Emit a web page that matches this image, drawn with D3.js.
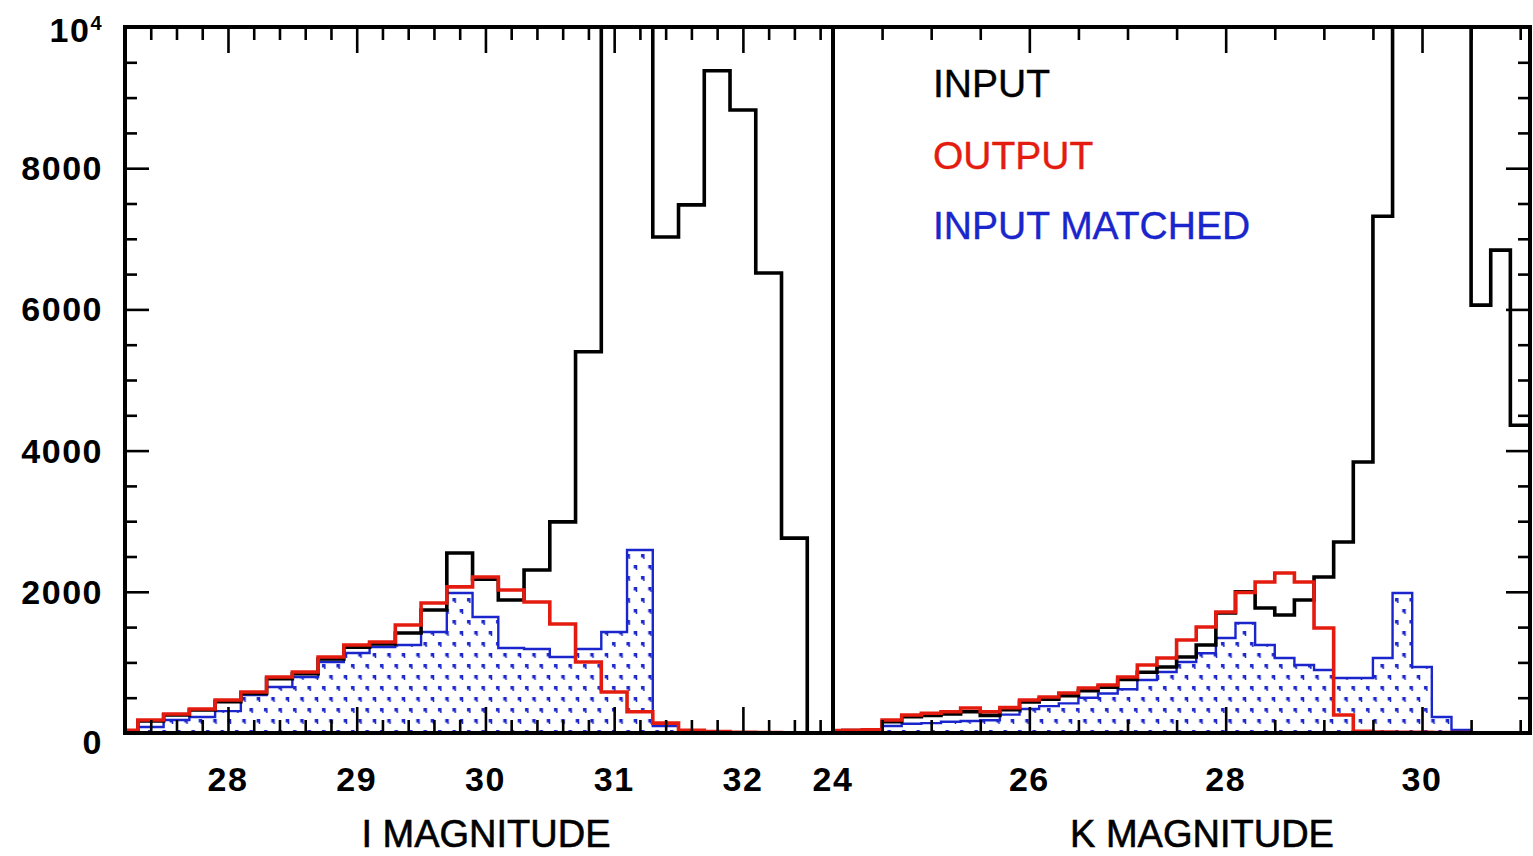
<!DOCTYPE html>
<html>
<head>
<meta charset="utf-8">
<script src="https://cdn.jsdelivr.net/npm/d3@7"></script>
<style>
  body { margin: 0; background: #fff; }
  svg { display: block; }
</style>
</head>
<body>
<svg id="chart" width="1533" height="856"></svg>
<script>
// ---- I band: bin centres (0.2 mag bins) and counts ----
const iCenters = [27.2, 27.4, 27.6, 27.8, 28.0, 28.2, 28.4, 28.6, 28.8, 29.0, 29.2, 29.4, 29.6, 29.8,
                  30.0, 30.2, 30.4, 30.6, 30.8, 31.0, 31.2, 31.4, 31.6, 31.8, 32.0, 32.2, 32.4, 32.6];
const iInput   = [30, 170, 255, 325, 445, 560, 770, 840, 1050, 1215, 1260, 1416, 1742, 2550,
                  2180, 1884, 2309, 2990, 5400, 12500, 12800, 7025, 7480, 9380, 8825, 6515, 2760, 0];
const iOutput  = [40, 184, 270, 340, 467, 580, 793, 864, 1076, 1246, 1289, 1530, 1841, 2070,
                  2210, 2025, 1855, 1544, 1006, 580, 300, 140, 40, 20, 10, 5, 0, 0];
const iMatched = [20, 85, 184, 227, 310, 538, 651, 793, 1006, 1133, 1218, 1246, 1430, 1983,
                  1643, 1204, 1190, 1076, 1190, 1430, 2592, 100, 20, 0, 0, 0, 0, 0];

// ---- K band: bin centres (0.2 mag bins) and counts ----
const kCenters = [24.0, 24.2, 24.4, 24.6, 24.8, 25.0, 25.2, 25.4, 25.6, 25.8, 26.0, 26.2, 26.4, 26.6,
                  26.8, 27.0, 27.2, 27.4, 27.6, 27.8, 28.0, 28.2, 28.4, 28.6, 28.8, 29.0, 29.2, 29.4,
                  29.6, 29.8, 30.0, 30.2, 30.4, 30.6, 30.8, 31.0];
const kInput   = [30, 35, 40, 160, 230, 250, 270, 300, 250, 330, 440, 480, 530, 600,
                  650, 760, 860, 935, 1076, 1246, 1700, 2000, 1770, 1671, 1884, 2210, 2705, 3838,
                  7320, 12500, 13500, 13000, 11500, 6060, 6840, 4360];
const kOutput  = [35, 40, 45, 184, 255, 280, 300, 354, 300, 360, 467, 510, 566, 637,
                  680, 793, 963, 1062, 1317, 1501, 1714, 1990, 2139, 2266, 2139, 1487, 255, 25,
                  15, 10, 10, 5, 5, 0, 0, 0];
const kMatched = [10, 10, 15, 100, 130, 140, 160, 170, 180, 260, 340, 380, 420, 500,
                  560, 620, 750, 864, 1006, 1130, 1345, 1558, 1246, 1062, 963, 892, 779, 779,
                  1062, 1983, 935, 227, 42, 0, 0, 0];

// ---- axis ticks and labels ----
const yMajorTicks = [0, 2000, 4000, 6000, 8000];
const yTopLabel = { base: "10", exponent: "4", value: 10000 };
const iMajorTicks = [28, 29, 30, 31, 32];
const kMajorTicks = [24, 26, 28, 30];
const legendLabels = ["INPUT", "OUTPUT", "INPUT MATCHED"];
const axisTitles = ["I MAGNITUDE", "K MAGNITUDE"];

// ---- styling ----
const RED = "#e41c10";
const BLUE = "#1a26cc";
const BLACK = "#000";
const binWidth = 0.2;

const svg = d3.select("#chart");
const plotTop = 27, plotBottom = 733;

const y = d3.scaleLinear().domain([0, 10000]).range([plotBottom, plotTop]);

const panels = [
  { id: "i", x0: 125, x1: 833, domain: [27.2, 32.7], centers: iCenters,
    input: iInput, output: iOutput, matched: iMatched,
    major: iMajorTicks, minorStep: 0.2, title: axisTitles[0], titleX: 486 },
  { id: "k", x0: 833, x1: 1530, domain: [24, 31.1], centers: kCenters,
    input: kInput, output: kOutput, matched: kMatched,
    major: kMajorTicks, minorStep: 0.5, title: axisTitles[1], titleX: 1202 }
];

const defs = svg.append("defs");

// dotted hatch used for the matched-input histogram
const pat = defs.append("pattern")
  .attr("id", "dots")
  .attr("patternUnits", "userSpaceOnUse")
  .attr("width", 14.5).attr("height", 22);
[[3, 4], [10.25, 15]].forEach(([px, py]) => {
  pat.append("rect").attr("x", px).attr("y", py).attr("width", 3.5).attr("height", 3.5).attr("fill", BLUE);
  pat.append("rect").attr("x", px + 2).attr("y", py + 3).attr("width", 1.5).attr("height", 2).attr("fill", BLUE);
});

function stepPoints(centers, values) {
  const pts = [];
  centers.forEach((c, i) => {
    pts.push([c - binWidth / 2, values[i]]);
    pts.push([c + binWidth / 2, values[i]]);
  });
  return pts;
}

panels.forEach(p => {
  const x = d3.scaleLinear().domain(p.domain).range([p.x0, p.x1]);

  defs.append("clipPath").attr("id", "clip-" + p.id)
    .append("rect")
    .attr("x", p.x0).attr("y", plotTop)
    .attr("width", p.x1 - p.x0).attr("height", plotBottom - plotTop);

  const g = svg.append("g").attr("clip-path", `url(#clip-${p.id})`);

  const line = d3.line().x(d => x(d[0])).y(d => y(d[1]));
  const area = d3.area().x(d => x(d[0])).y0(y(0)).y1(d => y(d[1]));

  const matchedPts = stepPoints(p.centers, p.matched);
  g.append("path").attr("d", area(matchedPts)).attr("fill", "url(#dots)");
  g.append("path").attr("d", line(matchedPts))
    .attr("fill", "none").attr("stroke", BLUE).attr("stroke-width", 2.4)
    .attr("stroke-linejoin", "miter");

  g.append("path").attr("d", line(stepPoints(p.centers, p.input)))
    .attr("fill", "none").attr("stroke", BLACK).attr("stroke-width", 3.6)
    .attr("stroke-linejoin", "miter");

  g.append("path").attr("d", line(stepPoints(p.centers, p.output)))
    .attr("fill", "none").attr("stroke", RED).attr("stroke-width", 3.6)
    .attr("stroke-linejoin", "miter");

  // x ticks (inward, top and bottom)
  const minor = d3.range(p.domain[0], p.domain[1] + 1e-9, p.minorStep)
    .map(v => Math.round(v * 10) / 10)
    .filter(v => v > p.domain[0] && v < p.domain[1] && !p.major.includes(v));
  const major = p.major.filter(v => v > p.domain[0] && v < p.domain[1]);

  const axG = svg.append("g");
  const drawXAxis = (gen, ty, vals, size) => {
    const a = axG.append("g").attr("transform", `translate(0,${ty})`)
      .call(gen(x).tickValues(vals).tickSize(size).tickFormat(""));
    a.select(".domain").remove();
    a.selectAll(".tick line").attr("stroke", BLACK).attr("stroke-width", 2.6);
  };
  drawXAxis(d3.axisBottom, plotBottom, minor, -13);
  drawXAxis(d3.axisBottom, plotBottom, major, -26);
  drawXAxis(d3.axisTop, plotTop, minor, -13);
  drawXAxis(d3.axisTop, plotTop, major, -26);

  // x tick labels
  svg.append("g").selectAll("text").data(p.major).join("text")
    .attr("x", d => x(d)).attr("y", 791)
    .attr("text-anchor", "middle")
    .attr("font-family", "'Liberation Sans', Arial, sans-serif")
    .attr("font-weight", "bold").attr("font-size", 34)
    .attr("letter-spacing", 1.5)
    .text(d => d);

  svg.append("text")
    .attr("x", p.titleX).attr("y", 847)
    .attr("text-anchor", "middle")
    .attr("font-family", "'Liberation Sans', Arial, sans-serif")
    .attr("font-size", 38)
    .attr("fill", BLACK).attr("stroke", BLACK).attr("stroke-width", 0.6)
    .text(p.title);
});

// y ticks: left axis of the I panel and right axis of the K panel
const yMinor = d3.range(500, 10000, 500).filter(v => v % 2000 !== 0);
const yMajorInner = yMajorTicks.filter(v => v > 0);
function drawYAxis(gen, tx, vals, size) {
  const a = svg.append("g").attr("transform", `translate(${tx},0)`)
    .call(gen(y).tickValues(vals).tickSize(size).tickFormat(""));
  a.select(".domain").remove();
  a.selectAll(".tick line").attr("stroke", BLACK).attr("stroke-width", 2.6);
}
drawYAxis(d3.axisLeft, panels[0].x0, yMinor, -12);
drawYAxis(d3.axisLeft, panels[0].x0, yMajorInner, -24);
drawYAxis(d3.axisRight, panels[1].x1, yMinor, -12);
drawYAxis(d3.axisRight, panels[1].x1, yMajorInner, -24);

// y tick labels
const yLab = svg.append("g")
  .attr("font-family", "'Liberation Sans', Arial, sans-serif")
  .attr("font-weight", "bold").attr("font-size", 34)
  .attr("letter-spacing", 1.5)
  .attr("text-anchor", "end");
yLab.selectAll("text.ylab").data(yMajorTicks).join("text")
  .attr("class", "ylab")
  .attr("x", 103)
  .attr("y", d => y(d) + 12 + (d === 0 ? 9 : 0))
  .text(d => d);
const topLab = yLab.append("text").attr("x", 103).attr("y", y(yTopLabel.value) + 15);
topLab.append("tspan").text(yTopLabel.base);
topLab.append("tspan").attr("font-size", 20).attr("dy", -12).text(yTopLabel.exponent);

// panel frames
panels.forEach(p => {
  svg.append("rect")
    .attr("x", p.x0).attr("y", plotTop)
    .attr("width", p.x1 - p.x0).attr("height", plotBottom - plotTop)
    .attr("fill", "none").attr("stroke", BLACK).attr("stroke-width", 4);
});

// legend
const legendColors = [BLACK, RED, BLUE];
const legendY = [97, 169, 239];
svg.append("g")
  .attr("font-family", "'Liberation Sans', Arial, sans-serif")
  .attr("font-size", 39)
  .selectAll("text").data(legendLabels).join("text")
  .attr("x", 933).attr("y", (d, i) => legendY[i])
  .attr("fill", (d, i) => legendColors[i])
  .attr("stroke", (d, i) => legendColors[i]).attr("stroke-width", 0.4)
  .text(d => d);
</script>
</body>
</html>
